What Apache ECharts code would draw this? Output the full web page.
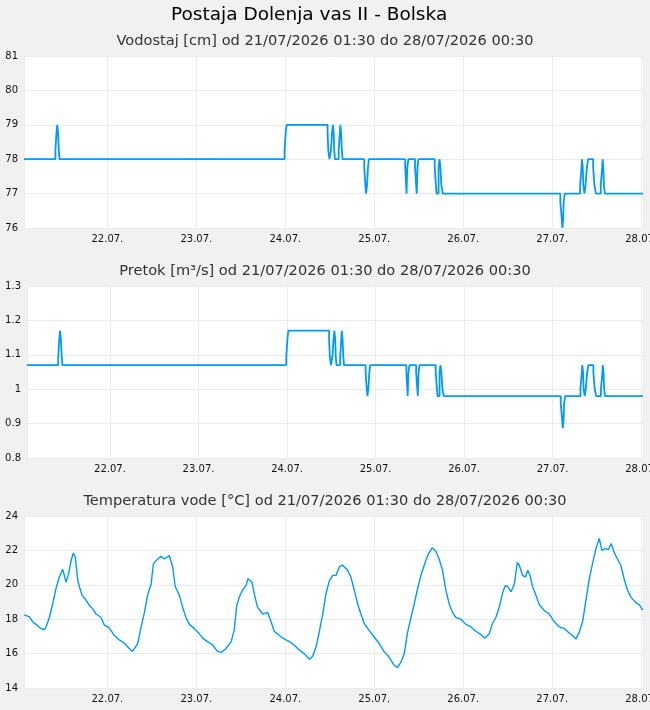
<!DOCTYPE html>
<html>
<head>
<meta charset="utf-8">
<title>Postaja Dolenja vas II - Bolska</title>
<script src="https://cdn.jsdelivr.net/npm/echarts@6/dist/echarts.min.js"></script>
<style>
  html, body { margin: 0; padding: 0; background: #f1f1f1; }
  #chart { width: 650px; height: 710px; }
</style>
</head>
<body>
<div id="chart"></div>
<script>
// obdobje meritev
const startTime = new Date(2026, 6, 21, 1, 30).getTime();
const endTime = new Date(2026, 6, 28, 0, 30).getTime();
const HOUR = 3600 * 1000;
const DAY = 24 * HOUR;

// vodostaj in pretok: ure od zacetka, kjer se vrednost spremeni
const stepHours = [
  0, 8.47, 8.75, 8.95, 9.2, 9.4, 9.6,
  70.3, 70.6, 70.85,
  81.9, 82.1, 82.4, 82.8, 83.1, 83.35, 83.55, 83.7, 83.9,
  84.9, 85.2, 85.35, 85.55, 85.75, 85.95,
  91.8, 92.1, 92.3, 92.55, 92.8, 93.05,
  102.85, 103.1, 103.2, 103.4, 103.7,
  105.5, 105.8, 105.95, 106.15, 106.4,
  110.8, 111.3, 111.85, 112.1, 112.35, 112.6, 113.0,
  144.7, 145.1, 145.25, 145.45, 145.6, 145.9,
  150.05, 150.4, 150.55, 150.75, 150.9, 151.2, 151.5, 151.85, 152.2,
  153.55, 153.9, 154.3, 155.6, 156.0, 156.1, 156.3, 156.45, 156.7,
  167
];
const levelValues = [
  78, 78.25, 78.75, 79, 78.75, 78.25, 78,
  78.25, 78.75, 79,
  78.75, 78.25, 78, 78.25, 78.75, 79, 78.75, 78.25, 78,
  78.25, 78.75, 79, 78.75, 78.25, 78,
  77.75, 77.25, 77, 77.25, 77.75, 78,
  77.75, 77.25, 77, 77.75, 78,
  77.75, 77.25, 77, 77.75, 78,
  77.75, 77, 77.75, 78, 77.75, 77.25, 77,
  76.75, 76.25, 76, 76.25, 76.75, 77,
  77.25, 77.75, 78, 77.75, 77.25, 77, 77.25, 77.75, 78,
  77.75, 77.25, 77, 77.25, 77.75, 78, 77.75, 77.25, 77,
  77
];
const flowValues = [
  1.07, 1.095, 1.145, 1.17, 1.145, 1.095, 1.07,
  1.095, 1.145, 1.17,
  1.145, 1.095, 1.07, 1.095, 1.145, 1.17, 1.145, 1.095, 1.07,
  1.095, 1.145, 1.17, 1.145, 1.095, 1.07,
  1.048, 1.002, 0.98, 1.002, 1.048, 1.07,
  1.048, 1.002, 0.98, 1.048, 1.07,
  1.048, 1.002, 0.98, 1.048, 1.07,
  1.048, 0.98, 1.048, 1.07, 1.048, 1.002, 0.98,
  0.958, 0.909, 0.887, 0.909, 0.958, 0.98,
  1.002, 1.048, 1.07, 1.048, 1.002, 0.98, 1.002, 1.048, 1.07,
  1.048, 1.002, 0.98, 1.002, 1.048, 1.07, 1.048, 1.002, 0.98,
  0.98
];

// temperatura vode: ure od zacetka in vrednosti
const tempHours = [
  0, 1.5, 2.35, 3.25, 4.6, 5.5, 5.95, 6.85, 7.75, 8.65, 9.55, 10.45, 10.9, 11.35, 12.05, 12.7, 13.3, 13.85,
  14.5, 14.95, 15.65, 16.75, 17.65, 18.55, 19.45, 20.8, 21.7, 23.0, 24.4, 25.7, 27.1, 28.4, 29.3, 29.8,
  30.7, 31.6, 32.5, 33.35, 34.3, 34.9, 36.05, 36.95, 37.9, 39.2, 40.1, 40.8, 41.9, 42.8, 43.7, 44.6,
  46.0, 47.3, 48.2, 49.5, 50.9, 52.2, 53.2, 54.5, 55.9, 56.7, 57.4, 58.1, 59.0, 59.9, 60.4, 61.5,
  62.1, 63.0, 64.4, 65.7, 66.6, 67.5, 68.9, 70.2, 71.6, 72.9, 74.3, 75.6, 77.0, 77.9, 78.8, 79.7,
  80.6, 81.5, 82.4, 83.3, 84.2, 85.1, 85.9, 87.3, 88.2, 89.1, 90.0, 90.9, 91.8, 93.1, 94.5, 95.8,
  97.2, 98.5, 99.9, 100.8, 101.7, 102.6, 103.4, 104.4, 105.3, 106.2, 107.1, 108.0, 108.9, 110.1,
  111.1, 112.0, 112.9, 113.8, 114.7, 115.6, 116.5, 117.9, 119.2, 120.6, 121.9, 123.3, 124.4, 125.5,
  126.4, 127.3, 128.2, 129.1, 129.8, 130.5, 131.4, 132.3, 133.1, 133.6, 134.5, 135.3, 135.9, 136.5,
  137.2, 138.1, 139.0, 140.4, 141.7, 143.1, 144.4, 145.8, 147.1, 148.0, 148.9, 149.8, 150.7, 151.6,
  152.5, 153.4, 154.3, 155.2, 155.9, 156.8, 157.7, 158.4, 159.2, 160.1, 161.0, 161.9, 162.8, 163.7,
  165.1, 166.0, 166.7, 167
];
const tempValues = [
  18.25, 18.13, 17.84, 17.7, 17.45, 17.4, 17.55, 18.1, 18.9, 19.8, 20.45, 20.9, 21.0, 20.15, 20.65, 21.4, 21.85, 21.6,
  20.25, 19.9, 19.4, 19.1, 18.8, 18.6, 18.3, 18.1, 17.65, 17.5, 17.05, 16.8, 16.6, 16.3, 16.13, 16.07,
  16.6, 17.55, 18.4, 19.4, 20.05, 21.2, 21.5, 21.65, 21.5, 21.7, 21.05, 19.9, 19.4, 18.7, 18.1, 17.7,
  17.45, 17.15, 16.9, 16.7, 16.5, 16.13, 16.07, 16.3, 16.7, 17.35, 18.8, 19.3, 19.7, 19.95, 20.35, 20.15,
  19.5, 18.7, 18.3, 18.4, 17.9, 17.3, 17.05, 16.85, 16.7, 16.5, 16.2, 16.0, 15.67, 15.85, 16.4, 17.3,
  18.3, 19.5, 20.25, 20.55, 20.55, 21.05, 21.15, 20.85, 20.45, 19.7, 18.9, 18.3, 17.75, 17.35, 16.95, 16.6,
  16.1, 15.8, 15.3, 15.2, 15.5, 16.0, 17.15, 18.1, 18.9, 19.8, 20.55, 21.15, 21.7, 22.15,
  21.95, 21.5, 20.85, 19.7, 18.9, 18.4, 18.1, 18.0, 17.7, 17.55, 17.3, 17.1, 16.9, 17.15,
  17.75, 18.1, 18.7, 19.5, 19.95, 19.9, 19.6, 20.05, 21.3, 21.15, 20.55, 20.45, 20.85, 20.55,
  19.9, 19.4, 18.85, 18.5, 18.3, 17.85, 17.55, 17.45, 17.2, 17.05, 16.85, 17.25, 17.85, 19.1,
  20.35, 21.25, 22.1, 22.7, 22.0, 22.1, 22.05, 22.4, 21.9, 21.5, 21.15, 20.35, 19.7, 19.3,
  18.95, 18.85, 18.6, 18.55
];

const subtitles = [
  'Vodostaj [cm] od 21/07/2026 01:30 do 28/07/2026 00:30',
  'Pretok [m³/s] od 21/07/2026 01:30 do 28/07/2026 00:30',
  'Temperatura vode [°C] od 21/07/2026 01:30 do 28/07/2026 00:30'
];

function toPairs (hours, values) {
  return hours.map((h, i) => [startTime + h * HOUR, values[i]]);
}

function pad (n) {
  return (n < 10 ? '0' : '') + n;
}

const lineColor = '#0099ff';
const textColor = '#111';
const gridColor = '#ebebeb';
const gridTops = [56, 286, 516];
const gridLefts = [24, 27, 24];

const xAxes = gridTops.map((t, i) => ({
  type: 'time',
  gridIndex: i,
  min: startTime,
  max: endTime,
  splitNumber: 7,
  minInterval: DAY,
  maxInterval: DAY,
  axisLine: { show: false },
  axisTick: { show: false },
  splitLine: { show: true, lineStyle: { color: gridColor } },
  axisLabel: {
    color: textColor,
    fontSize: 10,
    fontFamily: 'DejaVu Sans',
    margin: 6,
    hideOverlap: false,
    formatter: function (v) {
      const d = new Date(v);
      return pad(d.getDate()) + '.' + pad(d.getMonth() + 1) + '.';
    }
  }
}));

const yRanges = [
  { min: 76, max: 81, interval: 1 },
  { min: 0.8, max: 1.3, interval: 0.1 },
  { min: 14, max: 24, interval: 2 }
];

const yAxes = yRanges.map((r, i) => ({
  type: 'value',
  gridIndex: i,
  min: r.min,
  max: r.max,
  interval: r.interval,
  axisLine: { show: false },
  axisTick: { show: false },
  splitLine: { show: true, lineStyle: { color: gridColor } },
  axisLabel: {
    color: textColor,
    fontSize: 10,
    fontFamily: 'DejaVu Sans',
    margin: 6,
    formatter: function (v) {
      return String(Math.round(v * 10) / 10);
    }
  }
}));

const option = {
  animation: false,
  backgroundColor: '#f1f1f1',
  title: [
    {
      text: 'Postaja Dolenja vas II - Bolska',
      left: 166,
      top: 1,
      textStyle: { color: '#000', fontSize: 18.5, fontWeight: 'normal', fontFamily: 'DejaVu Sans' }
    }
  ].concat(subtitles.map((s, i) => ({
    text: s,
    left: 'center',
    top: gridTops[i] - 27,
    textStyle: { color: '#333', fontSize: 14.6, fontWeight: 'normal', fontFamily: 'DejaVu Sans' }
  }))),
  grid: gridTops.map((t, i) => ({
    top: t,
    height: 172,
    left: gridLefts[i],
    right: 7,
    outerBoundsMode: 'none',
    show: true,
    backgroundColor: '#fff',
    borderWidth: 0
  })),
  xAxis: xAxes,
  yAxis: yAxes,
  series: [
    {
      name: 'Vodostaj',
      type: 'line',
      xAxisIndex: 0,
      yAxisIndex: 0,
      step: 'end',
      showSymbol: false,
      lineStyle: { color: lineColor, width: 1.8 },
      data: toPairs(stepHours, levelValues)
    },
    {
      name: 'Pretok',
      type: 'line',
      xAxisIndex: 1,
      yAxisIndex: 1,
      step: 'end',
      showSymbol: false,
      lineStyle: { color: lineColor, width: 1.8 },
      data: toPairs(stepHours, flowValues)
    },
    {
      name: 'Temperatura vode',
      type: 'line',
      xAxisIndex: 2,
      yAxisIndex: 2,
      showSymbol: false,
      lineStyle: { color: lineColor, width: 1.4 },
      data: toPairs(tempHours, tempValues)
    }
  ]
};

const chart = echarts.init(document.getElementById('chart'));
chart.setOption(option);
</script>
</body>
</html>
